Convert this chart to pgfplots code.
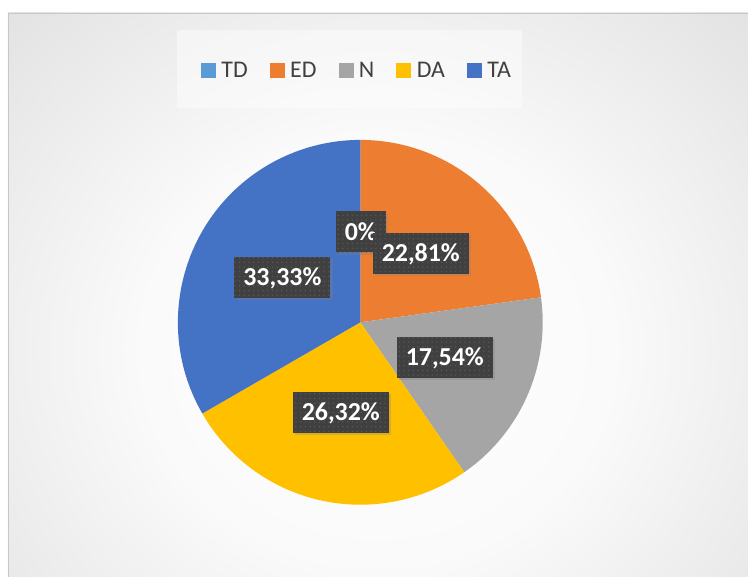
\documentclass[border=0pt]{standalone}
\usepackage{fontspec}
\setmainfont{Carlito}
\usepackage{pgfplots}
\pgfplotsset{compat=1.18}
\usepackage{pgfplotstable}
\usetikzlibrary{shadows,patterns.meta}

\definecolor{cTD}{HTML}{5B9BD5}
\definecolor{cED}{HTML}{ED7D31}
\definecolor{cN}{HTML}{A5A5A5}
\definecolor{cDA}{HTML}{FFC000}
\definecolor{cTA}{HTML}{4472C4}
\definecolor{lblbg}{HTML}{404040}
\definecolor{legtext}{HTML}{404040}

\pgfdeclareradialshading{bgshade}{\pgfpoint{0bp}{0bp}}{color(0bp)=(white); color(16bp)=(white!98!black); color(33bp)=(white!90!black); color(50bp)=(white!83!black); color(71bp)=(white!77!black)}

\pgfplotstableread{
label value
TD 0
ED 22.81
N 17.54
DA 26.32
TA 33.33
}\piedata

\pgfplotstablegetelem{0}{value}\of\piedata \let\vTD\pgfplotsretval
\pgfplotstablegetelem{1}{value}\of\piedata \let\vED\pgfplotsretval
\pgfplotstablegetelem{2}{value}\of\piedata \let\vN\pgfplotsretval
\pgfplotstablegetelem{3}{value}\of\piedata \let\vDA\pgfplotsretval
\pgfplotstablegetelem{4}{value}\of\piedata \let\vTA\pgfplotsretval

\pgfmathsetmacro{\aA}{90}
\pgfmathsetmacro{\aB}{\aA-3.6*\vTD}
\pgfmathsetmacro{\aC}{\aB-3.6*\vED}
\pgfmathsetmacro{\aD}{\aC-3.6*\vN}
\pgfmathsetmacro{\aE}{\aD-3.6*\vDA}
\pgfmathsetmacro{\aF}{\aE-3.6*\vTA}

\newcommand{\pieslice}[3]{%
  \fill[#3] (axis cs:360.5,254.5) -- ++(#1:182.5bp) arc[start angle=#1, end angle=#2, radius=182.5bp] -- cycle;}

\tikzset{
  lbl/.style={fill=lblbg, text=white, font=\fontsize{26}{30}\selectfont\bfseries,
    inner xsep=9bp, inner ysep=0bp, text height=29bp, text depth=12bp, anchor=center,
    drop shadow={shadow xshift=2.5bp, shadow yshift=-2.5bp, opacity=0.3},
    postaction={pattern={Dots[distance=4.7bp,radius=0.75bp]}, pattern color=white!14!lblbg}},
}

\begin{document}
\begin{tikzpicture}
\begin{axis}[
  x=1bp, y=1bp, xmin=0, xmax=748, ymin=0, ymax=577,
  hide axis, clip=false,
  legend image code/.code={\fill[#1] (0bp,-7bp) rectangle (14bp,7bp);},
  legend columns=5,
  legend style={at={(axis cs:201,506.7)}, anchor=west, draw=none, fill=none,
    inner sep=0pt, font=\fontsize{24}{28}\selectfont, text=legtext,
    nodes={inner xsep=0pt, inner ysep=0pt},
    /tikz/every odd column/.style={column sep=6bp},
    /tikz/every even column/.style={column sep=22bp}},
]
% page and background
\fill[white] (axis cs:0,0) rectangle (axis cs:748,577);
\begin{scope}
  \clip (axis cs:8,0) rectangle (axis cs:748,564);
  \shade[shading=bgshade] (axis cs:8,-110) rectangle (axis cs:748,564);
\end{scope}
\draw[black!22, line width=0.8bp] (axis cs:8.4,0) -- (axis cs:8.4,563.6) -- (axis cs:748,563.6);
% legend box
\fill[white, fill opacity=0.45] (axis cs:177,469) rectangle (axis cs:522,547);
% slices
\pieslice{\aA}{\aB}{cTD}
\pieslice{\aB}{\aC}{cED}
\pieslice{\aC}{\aD}{cN}
\pieslice{\aD}{\aE}{cDA}
\pieslice{\aE}{\aF}{cTA}
% data labels
\node[lbl] at (axis cs:361,345) {0\%};
\node[lbl] at (axis cs:421,323.5) {22,81\%};
\node[lbl] at (axis cs:445,219.5) {17,54\%};
\node[lbl] at (axis cs:341,164.5) {26,32\%};
\node[lbl] at (axis cs:282.5,299.5) {33,33\%};
% legend
\addlegendimage{cTD}\addlegendentry{TD}
\addlegendimage{cED}\addlegendentry{ED}
\addlegendimage{cN}\addlegendentry{N}
\addlegendimage{cDA}\addlegendentry{DA}
\addlegendimage{cTA}\addlegendentry{TA}
\end{axis}
\end{tikzpicture}
\end{document}
